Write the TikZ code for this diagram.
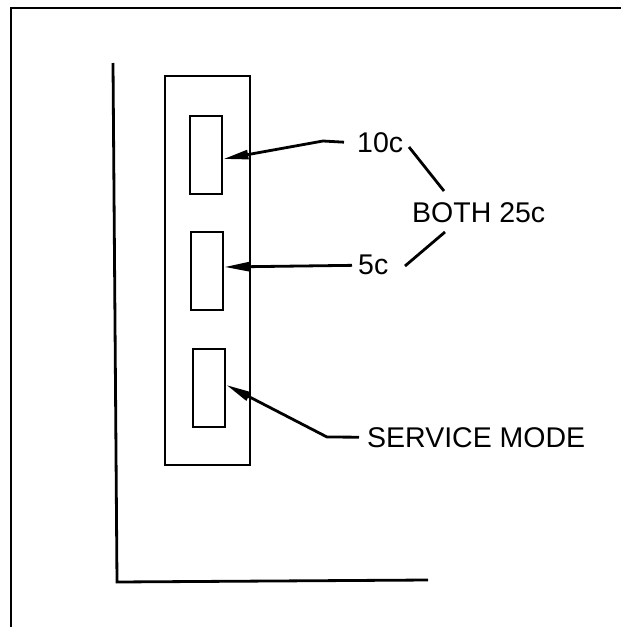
\documentclass[tikz,border=0pt]{standalone}
\usepackage{fontspec}
\setmainfont{Liberation Sans}
\usetikzlibrary{arrows.meta}
\begin{document}
\begin{tikzpicture}[x=1pt,y=-1pt,
  line/.style={line width=2.8pt, line join=miter},
  slotbox/.style={draw, line width=2.8pt, rectangle, inner sep=0pt, minimum width=32pt, minimum height=78pt},
  label/.style={inner sep=0pt, anchor=base west, font=\fontsize{28.5}{30}\selectfont},
  leader/.style={line width=2.8pt, -{Triangle[length=25pt,width=9pt]}}]
\useasboundingbox (0,0) rectangle (621,627);
\clip (0,0) rectangle (621,627);
% outer frame (only left and top edges visible)
\draw[line] (11,640) -- (11,8) -- (640,8);
% L-shaped edge
\draw[line] (113,63) -- (117,582) -- (428,580);
% panel and slots
\node[draw, line width=2.8pt, rectangle, inner sep=0pt, minimum width=85pt, minimum height=389pt] (panel) at (207.5,270.5) {};
\node[slotbox] (s1) at (206,155) {};
\node[slotbox] (s2) at (207,271) {};
\node[slotbox] (s3) at (209,388) {};
% labels
\node[label] (t10) at (357,152) {10c};
\node[label] (tb) at (412,222) {BOTH 25c};
\node[label] (t5) at (358,274) {5c};
\node[label] (ts) at (367,447) {SERVICE MODE};
% leaders
\coordinate (b10) at (323,141);
\coordinate (bs) at (327,437);
\draw[leader] ([xshift=-13pt]t10.west) -- (b10) -- ([yshift=-4pt]s1.east);
\draw[leader] ([xshift=-6pt,yshift=-1pt]t5.west) -- ([yshift=4pt]s2.east);
\draw[leader] ([xshift=-8pt]ts.west) -- (bs) -- ([yshift=3pt]s3.east);
% BOTH brackets
\coordinate (d1a) at (409,147);
\coordinate (d1b) at (444,191);
\coordinate (d2a) at (405,266);
\coordinate (d2b) at (445,232);
\draw[line] (d1a) -- (d1b);
\draw[line] (d2a) -- (d2b);
\end{tikzpicture}
\end{document}
